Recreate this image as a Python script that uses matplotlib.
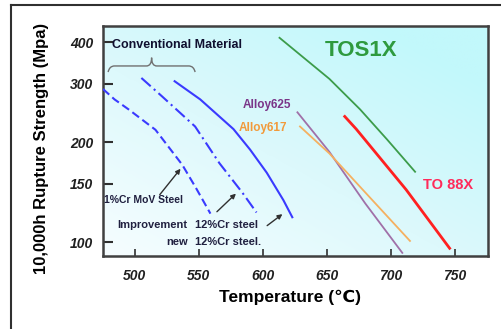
import numpy as np
import matplotlib
matplotlib.use("Agg")
import matplotlib.pyplot as plt
from matplotlib.path import Path
from matplotlib.patches import PathPatch
from matplotlib.lines import Line2D
from matplotlib.colors import LinearSegmentedColormap

# ---- data ----
crmov_temp = [475, 484, 495, 516, 537, 548, 559]
crmov_str = [289, 269, 251, 218, 171, 145, 122]

improv_temp = [505, 521, 547, 566, 584, 595]
improv_str = [312, 275, 223, 173, 141, 123]

new12_temp = [531, 551, 577, 590, 603, 616, 623]
new12_str = [305, 269, 219, 190, 162, 134, 119]

a625_temp = [627, 652, 680, 709]
a625_str = [246, 187, 131, 93]

a617_temp = [629, 652, 684, 715]
a617_str = [223, 185, 136, 101]

tos1x_temp = [613, 652, 676, 697, 719]
tos1x_str = [412, 310, 251, 204, 163]

to88x_temp = [664, 673, 712, 746]
to88x_str = [239, 219, 144, 96]

xticks = [500, 550, 600, 650, 700, 750]
yticks = [100, 150, 200, 300, 400]

FONT = "Liberation Sans"
plt.rcParams['font.family'] = [FONT, 'DejaVu Sans']

fig = plt.figure(figsize=(5.01, 3.29), dpi=100)
W, H = 501, 329
ax = fig.add_axes([103 / W, 1 - 256 / H, (488 - 103) / W, (256 - 26) / H])

# outer frame
fig.add_artist(Line2D([11 / W, 11 / W], [0, 1 - 5 / H], transform=fig.transFigure,
                      color='#303030', lw=1.5))
fig.add_artist(Line2D([11 / W, 1], [1 - 5 / H, 1 - 5 / H], transform=fig.transFigure,
                      color='#303030', lw=1.5))

# gradient background
gx, gy = np.meshgrid(np.linspace(0, 1, 200), np.linspace(0, 1, 200))
g = np.clip(0.55 * gx + 0.6 * gy, 0, 1)
cmap = LinearSegmentedColormap.from_list('bg', ['#f6fdff', '#ddf9fc', '#c2f8fb'])
ax.imshow(g, cmap=cmap, extent=[0, 1, 0, 1], transform=ax.transAxes,
          origin='lower', aspect='auto', zorder=0)

ax.set_yscale('log')
ax.set_xlim(475, 776)
ax.set_ylim(91, 447)

blue = '#3a3aff'
ax.plot(crmov_temp, crmov_str, color=blue, lw=1.5, ls=(0, (4, 2)), zorder=3)
ax.plot(improv_temp, improv_str, color=blue, lw=1.5, ls=(0, (6, 2, 1, 2)), zorder=3)
ax.plot(new12_temp, new12_str, color=blue, lw=1.5, zorder=3)
ax.plot(a625_temp, a625_str, color='#a070a8', lw=1.3, zorder=3)
ax.plot(a617_temp, a617_str, color='#f5b060', lw=1.3, zorder=3)
ax.plot(tos1x_temp, tos1x_str, color='#3c9c4a', lw=1.3, zorder=3)
ax.plot(to88x_temp, to88x_str, color='#ff2020', lw=2.0, zorder=3)

# axes styling
ax.set_xticks(xticks)
ax.set_yticks(yticks)
ax.yaxis.set_minor_locator(matplotlib.ticker.NullLocator())
ax.set_xticklabels([str(v) for v in xticks])
ax.set_yticklabels([str(v) for v in yticks])
ax.tick_params(axis='y', direction='in', length=7, width=1.5, pad=7, color='#303030')
ax.tick_params(axis='x', direction='in', length=5, width=1.2, pad=9, color='#303030')
for lab in ax.get_xticklabels() + ax.get_yticklabels():
    lab.set_fontweight('bold')
    lab.set_fontstyle('italic')
    lab.set_fontsize(10)
    lab.set_color('#202020')
xt = ax.xaxis.get_major_ticks()
for i in (4, 5):
    xt[i].tick1line.set_color('#ff4040')
for s in ax.spines.values():
    s.set_color('#404040')
    s.set_linewidth(1.8)

ax.set_xlabel('Temperature (\u2103)', fontsize=12.5, fontweight='bold', va='center')
ax.xaxis.set_label_coords((290 - 103) / 385, (256 - 297) / 230)
ax.set_ylabel('10,000h Rupture Strength (Mpa)', fontsize=12, fontweight='bold', va='center')
ax.yaxis.set_label_coords((42 - 103) / 385, (256 - 148) / 230)

# texts
ax.text(482, 393, 'Conventional Material', fontsize=9, fontweight='bold',
        color='#101030', va='center', ha='left', zorder=4)
ax.text(677, 377, 'TOS1X', fontsize=16, fontweight='bold', color='#2e9a3e',
        va='center', ha='center', zorder=4)
ax.text(745, 149, 'TO 88X', fontsize=10.5, fontweight='bold', color='#ff2a5a',
        va='center', ha='center', zorder=4)
ax.text(584, 258, 'Alloy625', fontsize=8.5, fontweight='bold', color='#7a3588',
        va='center', ha='left', zorder=4)
ax.text(581, 221, 'Alloy617', fontsize=8.5, fontweight='bold', color='#f29a3a',
        va='center', ha='left', zorder=4)
ax.text(476, 134, '1%Cr MoV Steel', fontsize=7.5, fontweight='bold',
        color='#202040', va='center', ha='left', zorder=4)
ax.text(541, 113, 'Improvement', fontsize=8, fontweight='bold',
        color='#202040', va='center', ha='right', zorder=4)
ax.text(547, 113, '12%Cr steel', fontsize=8, fontweight='bold',
        color='#202040', va='center', ha='left', zorder=4)
ax.text(541, 100, 'new', fontsize=8, fontweight='bold',
        color='#202040', va='center', ha='right', zorder=4)
ax.text(547, 100, '12%Cr steel.', fontsize=8, fontweight='bold',
        color='#202040', va='center', ha='left', zorder=4)

arrow = dict(arrowstyle='-|>', color='#303030', lw=1.0, mutation_scale=7)
ax.annotate('', xy=(537, 169), xytext=(518, 137), arrowprops=arrow, zorder=5)
ax.annotate('', xy=(580.5, 142), xytext=(562.5, 122), arrowprops=arrow, zorder=5)
ax.annotate('', xy=(617, 123), xytext=(601.6, 111), arrowprops=arrow, zorder=5)

# brace above conventional materials
verts = [(479, 325), (480, 339), (484, 339),
         (509, 339), (513, 339), (513, 359),
         (513, 339), (517, 339),
         (542, 339), (546, 339), (547, 325)]
codes = [Path.MOVETO, Path.CURVE3, Path.CURVE3,
         Path.LINETO, Path.CURVE3, Path.CURVE3,
         Path.CURVE3, Path.CURVE3,
         Path.LINETO, Path.CURVE3, Path.CURVE3]
ax.add_patch(PathPatch(Path(verts, codes), facecolor='none', edgecolor='#707070',
                       lw=1.0, zorder=4))

fig.savefig('out.png', dpi=100)
